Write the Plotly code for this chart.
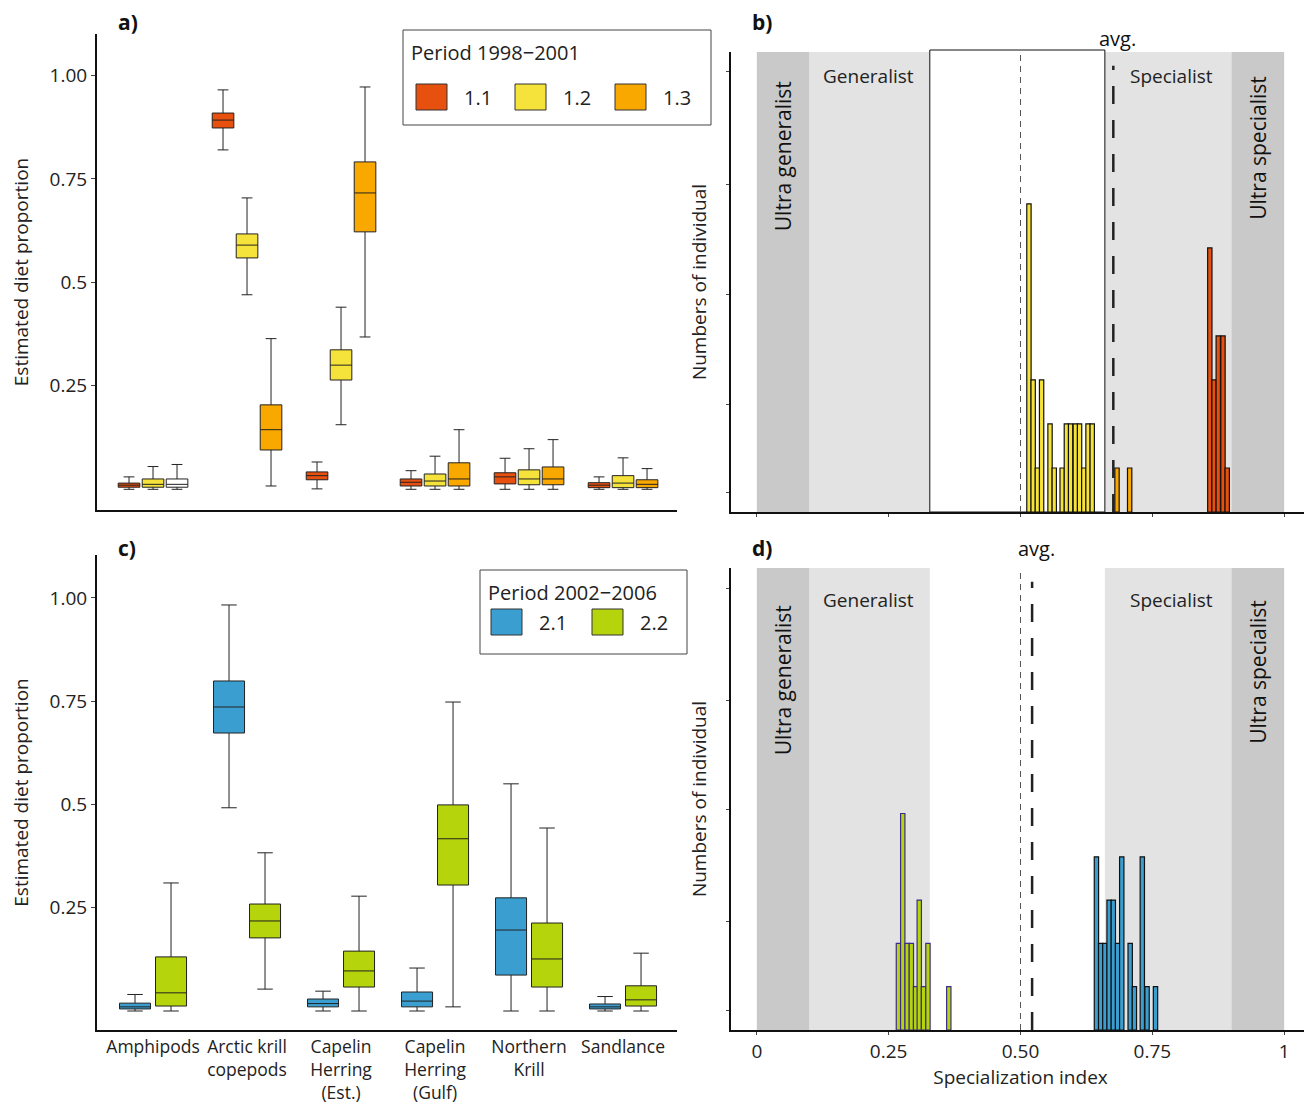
import plotly.graph_objects as go

W, H = 1312, 1117

# ---- data ----
prey = ["Amphipods", "Arctic krill<br>copepods", "Capelin<br>Herring<br>(Est.)",
        "Capelin<br>Herring<br>(Gulf)", "Northern<br>Krill", "Sandlance"]

# period 1 boxes: [q1, median, q3, lower whisker, upper whisker] per prey
p11 = [[0.005, 0.010, 0.015, 0.000, 0.030], [0.873, 0.892, 0.909, 0.820, 0.965],
       [0.023, 0.033, 0.042, 0.001, 0.066], [0.008, 0.017, 0.025, 0.000, 0.045],
       [0.013, 0.030, 0.040, 0.000, 0.075], [0.004, 0.010, 0.016, 0.000, 0.030]]
p12 = [[0.005, 0.012, 0.025, 0.000, 0.055], [0.559, 0.590, 0.617, 0.470, 0.704],
       [0.264, 0.300, 0.337, 0.156, 0.440], [0.008, 0.020, 0.037, 0.000, 0.080],
       [0.011, 0.025, 0.047, 0.000, 0.098], [0.004, 0.015, 0.033, 0.000, 0.076]]
p13 = [[0.005, 0.012, 0.025, 0.000, 0.060], [0.095, 0.144, 0.204, 0.008, 0.364],
       [0.622, 0.716, 0.791, 0.368, 0.972], [0.008, 0.025, 0.064, 0.000, 0.144],
       [0.011, 0.025, 0.054, 0.000, 0.120], [0.004, 0.012, 0.023, 0.000, 0.050]]
p21 = [[0.005, 0.010, 0.019, 0.000, 0.040], [0.673, 0.736, 0.799, 0.492, 0.983],
       [0.010, 0.018, 0.029, 0.000, 0.048], [0.010, 0.024, 0.046, 0.000, 0.104],
       [0.087, 0.196, 0.274, 0.000, 0.550], [0.005, 0.010, 0.017, 0.000, 0.035]]
p22 = [[0.012, 0.044, 0.131, 0.000, 0.310], [0.177, 0.218, 0.259, 0.053, 0.383],
       [0.058, 0.097, 0.145, 0.000, 0.278], [0.305, 0.417, 0.499, 0.010, 0.748],
       [0.058, 0.126, 0.213, 0.000, 0.443], [0.012, 0.027, 0.061, 0.000, 0.140]]

# specialization index histograms (bin centers, counts)
h11_x = [0.859, 0.867, 0.875, 0.884, 0.892]
h11_n = [6, 3, 4, 4, 1]
h12_x = [0.516, 0.524, 0.532, 0.540, 0.556, 0.564, 0.579, 0.587, 0.595, 0.604,
         0.612, 0.620, 0.628, 0.636]
h12_n = [7, 3, 1, 3, 2, 1, 1, 2, 2, 2, 2, 1, 2, 2]
h13_x = [0.683, 0.707]
h13_n = [1, 1]
h21_x = [0.644, 0.652, 0.660, 0.668, 0.676, 0.684, 0.692, 0.708, 0.716, 0.731,
         0.740, 0.756]
h21_n = [4, 2, 2, 3, 3, 2, 4, 2, 1, 4, 1, 1]
h22_x = [0.2685, 0.2767, 0.285, 0.293, 0.301, 0.308, 0.316, 0.3245, 0.364]
h22_n = [2, 5, 2, 2, 1, 3, 1, 2, 1]
bin_w = 0.0082
avg1, avg2 = 0.676, 0.522

C11, C12, C13 = "#e8500f", "#f5e23a", "#f9a800"
C21, C22 = "#3a9fd0", "#b5d40c"
DARK, LIGHT = "#c9c9c9", "#e3e3e3"
FONT = "Open Sans"


def px(x):
    return (x - 8) / W


def py(y):
    return 1 - (y - 8) / H


fig = go.Figure()


def add_boxes(data, pos_off, color, xa, ya, fills=None):
    for i, d in enumerate(data):
        fig.add_trace(go.Box(
            x=[i + pos_off], q1=[d[0]], median=[d[1]], q3=[d[2]],
            lowerfence=[d[3]], upperfence=[d[4]],
            fillcolor=(fills[i] if fills else color),
            line=dict(color="#222", width=1), width=0.23 if xa == "x" else 0.33,
            xaxis=xa, yaxis=ya, showlegend=False, hoverinfo="skip"))


add_boxes(p11, -24 / 94, C11, "x", "y")
add_boxes(p12, 0, C12, "x", "y")
add_boxes(p13, 24 / 94, C13, "x", "y",
          fills=["white", C13, C13, C13, C13, C13])
add_boxes(p21, -18 / 94, C21, "x3", "y3")
add_boxes(p22, 18 / 94, C22, "x3", "y3")


def add_hist(xs, ns, color, xa, ya, lc="#111"):
    fig.add_trace(go.Bar(x=xs, y=ns, width=bin_w, marker=dict(
        color=color, line=dict(color=lc, width=1.2)),
        xaxis=xa, yaxis=ya, showlegend=False, hoverinfo="skip"))


add_hist(h12_x, h12_n, C12, "x2", "y2")
add_hist(h13_x, h13_n, C13, "x2", "y2")
add_hist(h11_x, h11_n, C11, "x2", "y2")
add_hist(h22_x, h22_n, C22, "x4", "y4", lc="#3b2d8a")
add_hist(h21_x, h21_n, C21, "x4", "y4")

# ---- axes ----
tf = dict(family=FONT, size=19, color="#222")
box_x = dict(range=[-0.596, 5.574], showline=True, linecolor="#111", linewidth=2,
             showgrid=False, zeroline=False, tickvals=list(range(6)), automargin=False)
box_y = dict(showline=True, linecolor="#111", linewidth=2, showgrid=False, zeroline=False,
             ticks="outside", ticklen=4, tickvals=[0.25, 0.5, 0.75, 1.0],
             ticktext=["0.25", "0.5", "0.75", "1.00"], tickfont=tf, automargin=False,
             title=dict(text="Estimated diet proportion", font=tf, standoff=16))
fig.update_layout(
    xaxis=dict(domain=[px(97), px(677)], anchor="y", showticklabels=False, ticks="", **box_x),
    yaxis=dict(domain=[py(510), py(34)], range=[-0.05, 1.1], anchor="x", **box_y),
    xaxis3=dict(domain=[px(97), px(677)], anchor="y3", ticktext=prey,
                tickfont=dict(family=FONT, size=17.5, color="#222"),
                ticks="", tickangle=0, **box_x),
    yaxis3=dict(domain=[py(1030), py(555)], range=[-0.046, 1.104], anchor="x3", **box_y),
)
hx = dict(range=[-0.049, 1.049], showline=True, linecolor="#111", linewidth=2,
          showgrid=False, zeroline=False, ticks="outside", ticklen=3, automargin=False,
          tickvals=[0, 0.25, 0.5, 0.75, 1])
hy = dict(showline=True, linecolor="#111", linewidth=2, showgrid=False, zeroline=False,
          ticks="outside", ticklen=3, showticklabels=False, automargin=False,
          title=dict(text="Numbers of individual", font=tf, standoff=14))
fig.update_layout(
    xaxis2=dict(domain=[px(731), px(1310)], anchor="y2", showticklabels=False, **hx),
    yaxis2=dict(domain=[py(512), py(52)], range=[0, 10.45], anchor="x2",
                tickvals=[0.45, 2.45, 4.95, 7.45, 10.0], **hy),
    xaxis4=dict(domain=[px(731), px(1310)], anchor="y4", tickfont=tf, tickangle=0,
                ticktext=["0", "0.25", "0.50", "0.75", "1"],
                title=dict(text="Specialization index", font=tf, standoff=4), **hx),
    yaxis4=dict(domain=[py(1030), py(568)], range=[0, 10.67], anchor="x4",
                tickvals=[0.45, 2.5, 5.1, 7.6, 10.2], **hy),
    barmode="overlay",
)

# ---- background bands and reference lines ----
shapes = []
for xa, ya in [("x2", "y2"), ("x4", "y4")]:
    for x0, x1, c in [(0, 0.1, DARK), (0.1, 0.328, LIGHT), (0.66, 0.9, LIGHT), (0.9, 1, DARK)]:
        shapes.append(dict(type="rect", xref=xa, yref=ya + " domain", x0=x0, x1=x1,
                           y0=0, y1=1, fillcolor=c, line_width=0, layer="below"))
    shapes.append(dict(type="line", xref=xa, yref=ya + " domain", x0=0.5, x1=0.5, y0=0, y1=1,
                       line=dict(color="#555", width=1, dash="6px,5px")))
shapes.append(dict(type="rect", xref="x2", yref="paper", x0=0.328, x1=0.66,
                   y0=py(512), y1=py(50), line=dict(color="#111", width=1), layer="below"))
shapes.append(dict(type="line", xref="x2", yref="y2 domain", x0=avg1, x1=avg1, y0=0, y1=0.97,
                   line=dict(color="#222", width=2.5, dash="18px,16px")))
shapes.append(dict(type="line", xref="x4", yref="y4 domain", x0=avg2, x1=avg2, y0=0, y1=0.97,
                   line=dict(color="#222", width=2.5, dash="18px,16px")))

# ---- legends ----
ann = []
P = dict(xref="paper", yref="paper", showarrow=False, yanchor="middle")
legs = [(403, 30, 711, 125, "Period 1998\u22122001",
         [(416, C11, "1.1"), (515, C12, "1.2"), (615, C13, "1.3")], 97),
        (480, 570, 687, 654, "Period 2002\u22122006",
         [(491, C21, "2.1"), (592, C22, "2.2")], 622)]
for x0, y0, x1, y1, title, items, yc in legs:
    shapes.append(dict(type="rect", xref="paper", yref="paper", x0=px(x0), x1=px(x1),
                       y0=py(y1), y1=py(y0), line=dict(color="#444", width=1),
                       fillcolor="white"))
    ann.append(dict(x=px(x0 + 6), y=py(y0 + 22), text=title, xanchor="left",
                    font=dict(family=FONT, size=20, color="#222"), **P))
    for sx, c, lab in items:
        shapes.append(dict(type="rect", xref="paper", yref="paper", x0=px(sx), x1=px(sx + 31),
                           y0=py(yc + 13), y1=py(yc - 13), fillcolor=c,
                           line=dict(color="#333", width=1)))
        ann.append(dict(x=px(sx + 46), y=py(yc), text=lab, xanchor="left",
                        font=dict(family=FONT, size=20, color="#222"), **P))

lab_font = dict(family=FONT, size=21, color="#111")
for t, x, y in [("a)", 116, 22), ("b)", 750, 22), ("c)", 116, 548), ("d)", 750, 548)]:
    ann.append(dict(x=px(x), y=py(y), text="<b>" + t + "</b>", xanchor="left",
                    font=lab_font, **P))
big = dict(family=FONT, size=21, color="#111")
D = dict(yref="paper", showarrow=False, xanchor="center", yanchor="middle")
for xa, top in [("x2", 76), ("x4", 600)]:
    ann.append(dict(xref=xa, x=0.05, y=py(top + 80), text="Ultra generalist",
                    textangle=-90, font=big, **D))
    ann.append(dict(xref=xa, x=0.95, y=py(top + 72), text="Ultra specialist",
                    textangle=-90, font=big, **D))
    ann.append(dict(xref=xa, x=0.212, y=py(top), text="Generalist", font=tf, **D))
    ann.append(dict(xref=xa, x=0.787, y=py(top), text="Specialist", font=tf, **D))
ann.append(dict(xref="x2", x=avg1 + 0.008, y=py(38), text="avg.",
                font=dict(family=FONT, size=20, color="#111"), **D))
ann.append(dict(xref="x4", x=avg2 + 0.008, y=py(548), text="avg.",
                font=dict(family=FONT, size=20, color="#111"), **D))

fig.update_layout(width=W, height=H, margin=dict(l=0, r=0, t=0, b=0),
                  plot_bgcolor="white", paper_bgcolor="white",
                  shapes=shapes, annotations=ann, font=dict(family=FONT))
fig.write_html("out.html")
